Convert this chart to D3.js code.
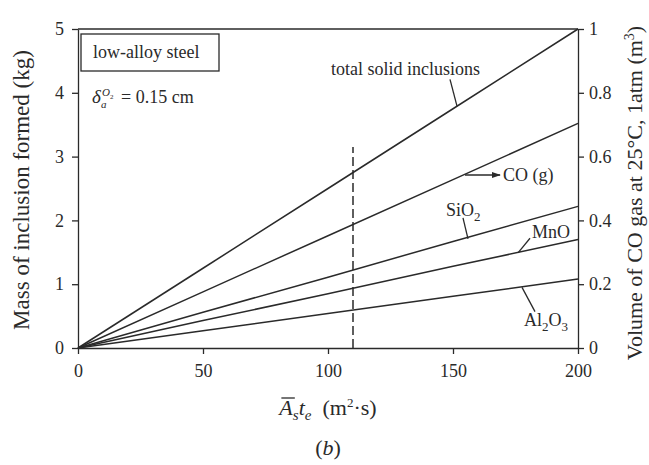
<!DOCTYPE html>
<html>
<head>
<meta charset="utf-8">
<script src="https://cdn.jsdelivr.net/npm/d3@7"></script>
<style>
  body { margin: 0; background: #fff; }
  text { font-family: "Liberation Serif", "Times New Roman", serif; fill: #2a2a2a; }
</style>
</head>
<body>
<div id="chart"></div>
<script>
// data (kg of inclusion vs As*te)
var xValues   = [0, 50, 100, 150, 200];
var totalSolid = [0, 1.25, 2.5, 3.75, 5.0];
var coGas     = [0, 0.88, 1.76, 2.64, 3.52];
var sio2      = [0, 0.56, 1.11, 1.67, 2.22];
var mno       = [0, 0.43, 0.85, 1.28, 1.70];
var al2o3     = [0, 0.27, 0.54, 0.81, 1.08];
var leftTicks  = [0, 1, 2, 3, 4, 5];
var rightTicks = [0, 0.2, 0.4, 0.6, 0.8, 1];
var xTicks     = [0, 50, 100, 150, 200];
var markerX = 110, markerTop = 3.15;

var margin = {top: 29, right: 71, bottom: 117, left: 78},
    width = 649 - margin.left - margin.right,
    height = 465 - margin.top - margin.bottom;
var ink = "#2a2a2a";

var svg = d3.select("#chart").append("svg")
    .attr("width", 649).attr("height", 465)
  .append("g")
    .attr("transform", "translate(" + margin.left + "," + margin.top + ")");

var x = d3.scaleLinear().domain([0, 200]).range([0, width]);
var y = d3.scaleLinear().domain([0, 5]).range([height, 0]);
var y2 = d3.scaleLinear().domain([0, 1]).range([height, 0]);

// axes
function styleAxis(g) {
  g.selectAll("path, line").attr("stroke", ink).attr("stroke-width", 1.3);
  g.selectAll("text").style("font-size", "18px").attr("fill", ink)
    .style("font-family", '"Liberation Serif", "Times New Roman", serif');
}
svg.append("g").attr("transform", "translate(0," + height + ")")
  .call(d3.axisBottom(x).tickValues(xTicks).tickSize(6).tickPadding(10).tickSizeOuter(0)
    .tickFormat(d3.format("d")))
  .call(styleAxis);
svg.append("g")
  .call(d3.axisLeft(y).tickValues(leftTicks).tickSize(6).tickPadding(8).tickSizeOuter(0)
    .tickFormat(d3.format("d")))
  .call(styleAxis);
svg.append("g").attr("transform", "translate(" + width + ",0)")
  .call(d3.axisRight(y2).tickValues(rightTicks).tickSize(6).tickPadding(5).tickSizeOuter(0)
    .tickFormat(function(d) { return (d === 0 || d === 1) ? d : d.toFixed(1); }))
  .call(styleAxis);
svg.append("line").attr("x1", 0).attr("x2", width).attr("y1", 0).attr("y2", 0)
  .attr("stroke", ink).attr("stroke-width", 1.3);

// series
var series = [totalSolid, coGas, sio2, mno, al2o3];
var line = d3.line().x(function(d, i) { return x(xValues[i]); }).y(function(d) { return y(d); });
svg.selectAll(".series").data(series).enter().append("path")
  .attr("class", "series")
  .attr("d", line)
  .attr("fill", "none").attr("stroke", ink).attr("stroke-width", 1.5);

// dashed marker line
svg.append("line")
  .attr("x1", x(markerX)).attr("x2", x(markerX))
  .attr("y1", y(0)).attr("y2", y(markerTop))
  .attr("stroke", ink).attr("stroke-width", 1.5).attr("stroke-dasharray", "9,4");

// leader lines
function leader(x1, y1, x2, y2v) {
  svg.append("line").attr("x1", x(x1)).attr("y1", y(y1)).attr("x2", x(x2)).attr("y2", y(y2v))
    .attr("stroke", ink).attr("stroke-width", 1.3);
}
leader(148.8, 4.21, 151.6, 3.79);
leader(154, 2.04, 156, 1.71);
leader(180.8, 1.72, 176, 1.49);
leader(177.6, 0.95, 182.8, 0.57);

// labels
function label(tx, ty, parts, anchor) {
  var t = svg.append("text").attr("x", tx).attr("y", ty)
    .style("font-size", "18px").attr("text-anchor", anchor || "start");
  parts.forEach(function(p) {
    t.append("tspan").text(p[0]).attr("dy", p[1] || 0)
      .style("font-size", p[2] || "18px");
  });
  return t;
}
label(x(131), 46, [["total solid inclusions"]], "middle");
label(503 - margin.left, 181 - margin.top, [["CO (g)"]]);
label(446 - margin.left, 216 - margin.top, [["SiO"], ["2", 5, "13px"]]);
label(532 - margin.left, 238 - margin.top, [["MnO"]]);
label(524 - margin.left, 326 - margin.top, [["Al"], ["2", 5, "13px"], ["O", -5], ["3", 5, "13px"]]);

// CO arrow
var defs = svg.append("defs");
defs.append("marker").attr("id", "arrow").attr("viewBox", "0 0 10 10")
  .attr("refX", 9).attr("refY", 5).attr("markerWidth", 7).attr("markerHeight", 7)
  .attr("orient", "auto")
  .append("path").attr("d", "M0,1.5L10,5L0,8.5Z").attr("fill", ink);
svg.append("line")
  .attr("x1", 465 - margin.left).attr("y1", 175 - margin.top)
  .attr("x2", 500 - margin.left).attr("y2", 175 - margin.top)
  .attr("stroke", ink).attr("stroke-width", 1.3).attr("marker-end", "url(#arrow)");

// legend box
svg.append("rect").attr("x", 3).attr("y", 5).attr("width", 138).attr("height", 37)
  .attr("fill", "none").attr("stroke", ink).attr("stroke-width", 1.3);
svg.append("text").attr("x", 15).attr("y", 29).style("font-size", "18px").text("low-alloy steel");

// delta annotation
var dl = svg.append("g").attr("transform", "translate(14,74)");
dl.append("text").attr("x", 0).attr("y", 0).style("font-size", "19px").style("font-style", "italic").text("δ");
dl.append("text").attr("x", 10).attr("y", -7).style("font-size", "11px").style("font-style", "italic").text("O");
dl.append("text").attr("x", 18).attr("y", -4).style("font-size", "7px").text("2");
dl.append("text").attr("x", 9).attr("y", 5).style("font-size", "11px").style("font-style", "italic").text("a");
dl.append("text").attr("x", 29).attr("y", 0).style("font-size", "18px").text("= 0.15 cm");

// axis titles
svg.append("text")
  .attr("transform", "translate(" + (29 - margin.left) + "," + (190 - margin.top) + ") rotate(-90)")
  .attr("text-anchor", "middle").style("font-size", "23px")
  .text("Mass of inclusion formed (kg)");
var rt = svg.append("text")
  .attr("transform", "translate(" + (642 - margin.left) + "," + (193 - margin.top) + ") rotate(-90)")
  .attr("text-anchor", "middle").style("font-size", "22px");
rt.append("tspan").text("Volume of CO gas at 25°C, 1atm (m");
rt.append("tspan").text("3").attr("dy", -8).style("font-size", "14px");
rt.append("tspan").text(")").attr("dy", 8);

var xt = svg.append("text").attr("x", 328 - margin.left).attr("y", 415 - margin.top)
  .attr("text-anchor", "middle").style("font-size", "22px");
xt.append("tspan").text("A").style("font-style", "italic");
xt.append("tspan").text("s").style("font-style", "italic").style("font-size", "15px").attr("dy", 5);
xt.append("tspan").text("t").style("font-style", "italic").attr("dy", -5);
xt.append("tspan").text("e").style("font-style", "italic").style("font-size", "15px").attr("dy", 5);
xt.append("tspan").text("\u2002(m").attr("dy", -5);
xt.append("tspan").text("2").style("font-size", "13px").attr("dy", -8);
xt.append("tspan").text("·s)").attr("dy", 8);
// overbar on A
var node = xt.node();
var a0 = node.getStartPositionOfChar(0), a1 = node.getEndPositionOfChar(0);
svg.append("line").attr("x1", a0.x + 2).attr("x2", a1.x + 2)
  .attr("y1", 415 - margin.top - 17).attr("y2", 415 - margin.top - 17)
  .attr("stroke", ink).attr("stroke-width", 1.3);

var bt = svg.append("text").attr("x", 328 - margin.left).attr("y", 455 - margin.top)
  .attr("text-anchor", "middle").style("font-size", "22px");
bt.append("tspan").text("(");
bt.append("tspan").text("b").style("font-style", "italic");
bt.append("tspan").text(")");
</script>
</body>
</html>
